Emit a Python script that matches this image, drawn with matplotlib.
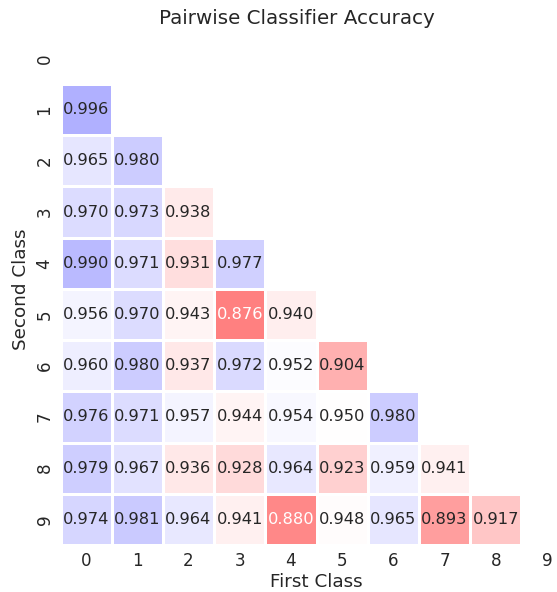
import numpy as np
import matplotlib
matplotlib.use("Agg")
import matplotlib.pyplot as plt
import seaborn as sns

# ── Data: pairwise accuracy, rows = second class, cols = first class ──
classes = [str(i) for i in range(10)]
row_1 = [0.996]
row_2 = [0.965, 0.980]
row_3 = [0.970, 0.973, 0.938]
row_4 = [0.990, 0.971, 0.931, 0.977]
row_5 = [0.956, 0.970, 0.943, 0.876, 0.940]
row_6 = [0.960, 0.980, 0.937, 0.972, 0.952, 0.904]
row_7 = [0.976, 0.971, 0.957, 0.944, 0.954, 0.950, 0.980]
row_8 = [0.979, 0.967, 0.936, 0.928, 0.964, 0.923, 0.959, 0.941]
row_9 = [0.974, 0.981, 0.964, 0.941, 0.880, 0.948, 0.965, 0.893, 0.917]
rows = [row_1, row_2, row_3, row_4, row_5, row_6, row_7, row_8, row_9]

acc = np.full((10, 10), np.nan)
for i, r in enumerate(rows, start=1):
    acc[i, :len(r)] = r
mask = np.triu(np.ones_like(acc, dtype=bool))

sns.set_theme(style="white")

fig = plt.figure(figsize=(5.57, 5.92), dpi=100)
W, H = 557, 592
left, right, top, bottom = 60.5, 572.5, 32.8, 545.0
ax = fig.add_axes([left / W, 1 - bottom / H, (right - left) / W, (bottom - top) / H])

sns.heatmap(acc, mask=mask, cmap="bwr_r", center=0.95, vmin=0.8, vmax=1.1,
            annot=True, fmt=".3f", annot_kws={"fontsize": 11.7},
            linewidths=0.8, linecolor="white", cbar=False,
            xticklabels=classes, yticklabels=classes, ax=ax)

ax.set_xlabel("First Class", fontsize=13.2, labelpad=2)
ax.set_ylabel("Second Class", fontsize=13.2, labelpad=4)
ax.tick_params(axis="both", labelsize=12.1, length=0, pad=5)
plt.setp(ax.get_yticklabels(), rotation=90, va="center")
plt.setp(ax.get_xticklabels(), rotation=0)
fig.suptitle("Pairwise Classifier Accuracy", x=297 / W, y=1 - 18 / H,
             va="center", fontsize=14.3)

fig.savefig("out.png", dpi=100)
